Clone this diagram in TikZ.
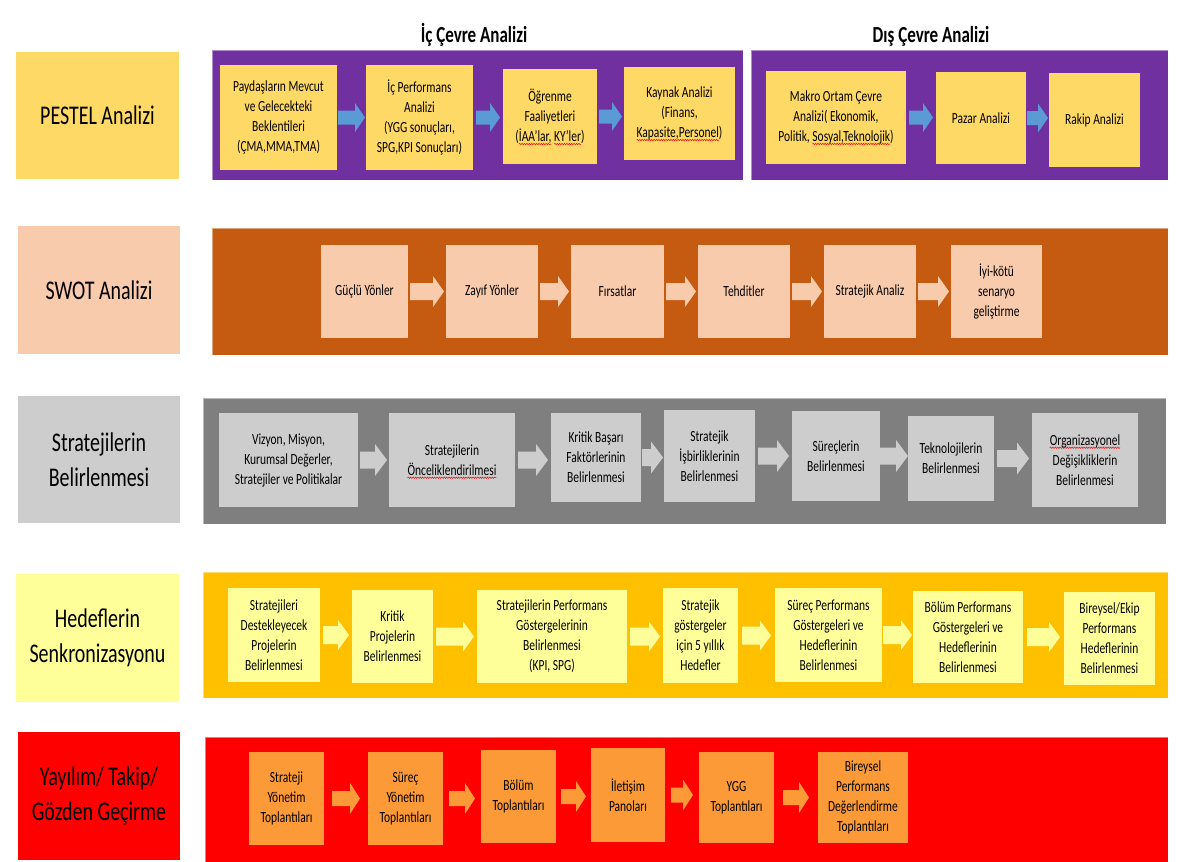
\documentclass[tikz,border=0pt]{standalone}
\usepackage{fontspec}
\setmainfont{Carlito}[FakeStretch=0.74]
\usetikzlibrary{calc,decorations.pathmorphing}
\definecolor{purp}{HTML}{7030A0}
\definecolor{gold}{HTML}{FFD966}
\definecolor{blu}{HTML}{5B9BD5}
\definecolor{rust}{HTML}{C55A11}
\definecolor{peach}{HTML}{F8CBAD}
\definecolor{dgray}{HTML}{7F7F7F}
\definecolor{lgray}{HTML}{CDCDCD}
\definecolor{amber}{HTML}{FFC000}
\definecolor{lyel}{HTML}{FFFF99}
\definecolor{bred}{HTML}{FF0000}
\definecolor{orng}{HTML}{FD9A38}
% spell-check squiggle under a word
\newcommand\sqg[1]{\tikz[baseline=(w.base)]{\node[inner sep=0pt, outer sep=0pt, minimum width=0pt, minimum height=0pt, fill=none, draw=none, text=black, align=left] (w) {#1};
  \draw[overlay, red, line width=0.5pt, decorate, decoration={snake, amplitude=0.7pt, segment length=2.4pt}] ([yshift=-2.4pt]w.base west) -- ([yshift=-2.4pt]w.base east);}}
% box: name, style, x1, y1, x2, y2, text
\newcommand\bx[7]{\node[#2, minimum width={(#5)-(#3)}, minimum height={(#6)-(#4)}] (#1) at ({((#3)+(#5))/2},{((#4)+(#6))/2}) {#7};}
% block arrow: colour, from, to, gap
\def\as{8pt}\def\ah{15pt}\def\al{11pt}
\newcommand\barr[4]{\fill[#1] let \p1=(#2.east), \p2=(#3.west) in
  ({\x1+#4pt},{\y1+\as}) -- ({\x2-#4pt-\al},{\y1+\as}) -- ({\x2-#4pt-\al},{\y1+\ah}) -- ({\x2-#4pt},{\y1}) -- ({\x2-#4pt-\al},{\y1-\ah}) -- ({\x2-#4pt-\al},{\y1-\as}) -- ({\x1+#4pt},{\y1-\as}) -- cycle;}
\begin{document}
\begin{tikzpicture}[x=1pt,y=-1pt,
  lab/.style={inner sep=0pt, outer sep=0pt, align=center, text=black, font=\fontsize{27}{35}\selectfont},
  panel/.style={inner sep=0pt, outer sep=0pt, draw=white, draw opacity=0.45, line width=0.7pt},
  box/.style={inner sep=0pt, outer sep=0pt, align=center, text=black, font=\fontsize{15.5}{20}\selectfont},
  ttl/.style={inner sep=0pt, text=black, font=\bfseries\fontsize{23}{28}\selectfont}]
\useasboundingbox (0,0) rectangle (1181,862);
\fill[white] (0,0) rectangle (1181,862);

% left labels
\bx{L1}{lab, fill=gold}{16}{52}{179}{179}{PESTEL Analizi}
\bx{L2}{lab, fill=peach}{18}{226}{180}{354}{SWOT Analizi}
\bx{L3}{lab, fill=lgray}{18}{396}{180}{523}{Stratejilerin\\Belirlenmesi}
\bx{L4}{lab, fill=lyel}{16}{574}{179}{702}{Hedeflerin\\Senkronizasyonu}
\bx{L5}{lab, fill=bred}{18}{732}{180}{860}{Yayılım/ Takip/\\Gözden Geçirme}

% titles
\node[ttl] (T1) at (474,35) {İç Çevre Analizi};
\node[ttl] (T2) at (931,36) {Dış Çevre Analizi};

% panels
\bx{P1a}{panel, fill=purp}{212}{50}{743}{180}{}
\bx{P1b}{panel, fill=purp}{751}{50}{1168}{180}{}
\bx{P2}{panel, fill=rust}{212}{228}{1168}{355}{}
\bx{P3}{panel, fill=dgray}{203}{398}{1166}{524}{}
\bx{P4}{panel, fill=amber}{203}{572}{1168}{698}{}
\bx{P5}{panel, fill=bred}{205}{737}{1168}{862}{}

% row 1
\bx{a1}{box, fill=gold}{220}{65}{337}{170}{Paydaşların Mevcut\\ve Gelecekteki\\Beklentileri\\(ÇMA,MMA,TMA)}
\bx{a2}{box, fill=gold}{366}{65}{473}{170}{İç Performans\\Analizi\\(YGG sonuçları,\\SPG,KPI Sonuçları)}
\bx{a3}{box, fill=gold}{503}{69}{597}{164}{Öğrenme\\Faaliyetleri\\(\sqg{İAA’lar,} \sqg{KY’ler})}
\bx{a4}{box, fill=gold}{624}{67}{735}{160}{Kaynak Analizi\\(Finans,\\\sqg{Kapasite,Personel})}
\bx{a5}{box, fill=gold}{766}{71}{906}{164}{Makro Ortam Çevre\\Analizi( Ekonomik,\\Politik, \sqg{Sosyal,Teknolojik})}
\bx{a6}{box, fill=gold}{936}{72}{1026}{164}{Pazar Analizi}
\bx{a7}{box, fill=gold}{1049}{73}{1140}{167}{Rakip Analizi}
\def\as{7pt}\def\ah{14.5pt}\def\al{10pt}
\barr{blu}{a1}{a2}{1}
\barr{blu}{a2}{a3}{3}
\barr{blu}{a3}{a4}{2}
\barr{blu}{a5}{a6}{3}
\barr{blu}{a6}{a7}{1}

% row 2
\bx{c1}{box, fill=peach}{321}{245}{408}{338}{Güçlü Yönler}
\bx{c2}{box, fill=peach}{446}{245}{538}{338}{Zayıf Yönler}
\bx{c3}{box, fill=peach}{571}{245}{664}{338}{Fırsatlar}
\bx{c4}{box, fill=peach}{698}{245}{790}{338}{Tehditler}
\bx{c5}{box, fill=peach}{824}{245}{916}{338}{Stratejik Analiz}
\bx{c6}{box, fill=peach}{951}{245}{1042}{338}{İyi-kötü\\senaryo\\geliştirme}
\def\as{8.5pt}\def\ah{15.5pt}\def\al{11pt}
\barr{peach}{c1}{c2}{2}
\barr{peach}{c2}{c3}{2}
\barr{peach}{c3}{c4}{2}
\barr{peach}{c4}{c5}{2}
\barr{peach}{c5}{c6}{2}

% row 3
\bx{d1}{box, fill=lgray}{219}{413}{358}{507}{Vizyon, Misyon,\\Kurumsal Değerler,\\Stratejiler ve Politikalar}
\bx{d2}{box, fill=lgray}{389}{413}{515}{507}{Stratejilerin\\\sqg{Önceliklendirilmesi}}
\bx{d3}{box, fill=lgray}{551}{413}{641}{502}{Kritik Başarı\\Faktörlerinin\\Belirlenmesi}
\bx{d4}{box, fill=lgray}{664}{410}{755}{502}{Stratejik\\İşbirliklerinin\\Belirlenmesi}
\bx{d5}{box, fill=lgray}{792}{411}{880}{501}{Süreçlerin\\Belirlenmesi}
\bx{d6}{box, fill=lgray}{908}{416}{994}{501}{Teknolojilerin\\Belirlenmesi}
\bx{d7}{box, fill=lgray}{1032}{413}{1138}{507}{\sqg{Organizasyonel}\\Değişikliklerin\\Belirlenmesi}
\def\as{8.5pt}\def\ah{16pt}\def\al{12pt}
\barr{lgray}{d1}{d2}{2}
\barr{lgray}{d2}{d3}{3}
\barr{lgray}{d3}{d4}{1}
\barr{lgray}{d4}{d5}{3}
\barr{lgray}{d5}{d6}{0}
\barr{lgray}{d6}{d7}{3}

% row 4
\bx{e1}{box, fill=lyel}{228}{588}{320}{682}{Stratejileri\\Destekleyecek\\Projelerin\\Belirlenmesi}
\bx{e2}{box, fill=lyel}{352}{590}{433}{683}{Kritik\\Projelerin\\Belirlenmesi}
\bx{e3}{box, fill=lyel}{477}{590}{627}{683}{Stratejilerin Performans\\Göstergelerinin\\Belirlenmesi\\(KPI, SPG)}
\bx{e4}{box, fill=lyel}{663}{588}{738}{683}{Stratejik\\göstergeler\\için 5 yıllık\\Hedefler}
\bx{e5}{box, fill=lyel}{775}{588}{882}{682}{Süreç Performans\\Göstergeleri ve\\Hedeflerinin\\Belirlenmesi}
\bx{e6}{box, fill=lyel}{913}{591}{1023}{683}{Bölüm Performans\\Göstergeleri ve\\Hedeflerinin\\Belirlenmesi}
\bx{e7}{box, fill=lyel}{1064}{592}{1155}{685}{Bireysel/Ekip\\Performans\\Hedeflerinin\\Belirlenmesi}
\def\as{9pt}\def\ah{15pt}\def\al{11pt}
\barr{lyel}{e1}{e2}{3}
\barr{lyel}{e2}{e3}{3}
\barr{lyel}{e3}{e4}{3}
\barr{lyel}{e4}{e5}{4}
\barr{lyel}{e5}{e6}{1}
\barr{lyel}{e6}{e7}{4}

% row 5
\bx{f1}{box, fill=orng}{249}{752}{324}{845}{Strateji\\Yönetim\\Toplantıları}
\bx{f2}{box, fill=orng}{368}{752}{443}{845}{Süreç\\Yönetim\\Toplantıları}
\bx{f3}{box, fill=orng}{481}{750}{556}{843}{Bölüm\\Toplantıları}
\bx{f4}{box, fill=orng}{591}{748}{665}{842}{İletişim\\Panoları}
\bx{f5}{box, fill=orng}{699}{752}{774}{843}{YGG\\Toplantıları}
\bx{f6}{box, fill=orng}{818}{752}{908}{843}{Bireysel\\Performans\\Değerlendirme\\Toplantıları}
\def\as{7.5pt}\def\ah{15.5pt}\def\al{10pt}
\barr{orng}{f1}{f2}{8}
\barr{orng}{f2}{f3}{6}
\barr{orng}{f3}{f4}{5}
\barr{orng}{f4}{f5}{6}
\barr{orng}{f5}{f6}{9}
\end{tikzpicture}
\end{document}
